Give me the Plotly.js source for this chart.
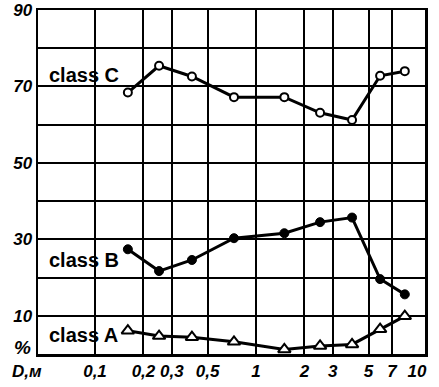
<!DOCTYPE html>
<html>
<head>
<meta charset="utf-8">
<script src="https://cdn.plot.ly/plotly-3.0.1.min.js"></script>
<style>html,body{margin:0;padding:0;background:#fff;}#chart{width:439px;height:387px;}</style>
</head>
<body>
<div id="chart"></div>
<script>
// Particle size D (m), log scale
const sizes = [0.16, 0.25, 0.40, 0.73, 1.5, 2.5, 3.95, 5.9, 8.4];
const classC = [68.4, 75.4, 72.6, 67.2, 67.2, 63.1, 61.2, 72.8, 74.0];
const classB = [27.4, 21.7, 24.6, 30.3, 31.6, 34.5, 35.7, 19.6, 15.6];
const classA = [6.1, 4.7, 4.4, 3.2, 1.2, 2.1, 2.5, 6.5, 9.9];
const seriesNames = ['class C', 'class B', 'class A'];
const labelY = [73, 24.6, 5.0];
const xTickVals = [0.1, 0.2, 0.3, 0.5, 1, 2, 3, 5, 7, 10];
const xTickText = ['0,1', '0,2', '0,3', '0,5', '1', '2', '3', '5', '7', '10'];
const xGridVals = [0.1, 0.2, 0.3, 0.5, 1, 2, 3, 5, 7];
const yTickVals = [0, 10, 20, 30, 40, 50, 60, 70, 80, 90];
const yTickText = ['', '10', '', '30', '', '50', '', '70', '', '90'];

const lineStyle = {color: '#000', width: 3};
const traces = [
  {x: sizes, y: classC, mode: 'lines+markers', line: lineStyle,
   marker: {symbol: 'circle', size: 8, color: '#fff', line: {color: '#000', width: 2}}, name: seriesNames[0]},
  {x: sizes, y: classB, mode: 'lines+markers', line: lineStyle,
   marker: {symbol: 'circle', size: 9, color: '#000', line: {color: '#000', width: 1}}, name: seriesNames[1]},
  {x: sizes, y: classA, mode: 'lines+markers', line: lineStyle,
   marker: {symbol: 'triangle-up', size: 11, color: '#fff', line: {color: '#000', width: 2}}, name: seriesNames[2]}
];

const tickFont = {family: 'Liberation Sans, Arial, sans-serif', size: 17, color: '#000', weight: 'bold', style: 'italic'};
const labelFont = {family: 'Liberation Sans, Arial, sans-serif', size: 20, color: '#000', weight: 'bold'};

const annotations = seriesNames.map((n, i) => ({
  text: n, xref: 'paper', yref: 'y', x: 0.022, y: labelY[i], xanchor: 'left', yanchor: 'middle',
  showarrow: false, font: labelFont
}));
annotations.push({text: '%', xref: 'paper', yref: 'paper', x: -0.041, y: 0.02, xanchor: 'center', yanchor: 'middle',
  showarrow: false, font: {family: 'Liberation Sans, Arial, sans-serif', size: 19, color: '#000', weight: 'bold', style: 'italic'}});
annotations.push({text: 'D,м', xref: 'paper', yref: 'paper', x: -0.028, y: -0.052, xanchor: 'center', yanchor: 'middle',
  showarrow: false, font: tickFont});

const layout = {
  width: 439, height: 387,
  margin: {l: 38, r: 14, t: 10, b: 33},
  paper_bgcolor: '#fff', plot_bgcolor: '#fff',
  showlegend: false,
  xaxis: {
    type: 'log', range: [-1.354, 1.0497],
    tickmode: 'array', tickvals: xTickVals, ticktext: xTickText,
    showgrid: false, zeroline: false, ticks: '',
    showline: true, mirror: true, linecolor: '#000', linewidth: 2.5,
    tickfont: tickFont,
    minor: {tickmode: 'array', tickvals: xGridVals, showgrid: true, gridcolor: '#000', gridwidth: 2, ticks: ''}
  },
  yaxis: {
    range: [0, 90], tickmode: 'array', tickvals: yTickVals, ticktext: yTickText,
    showgrid: true, gridcolor: '#000', gridwidth: 2, zeroline: false, ticks: '',
    showline: true, mirror: true, linecolor: '#000', linewidth: 2.5,
    tickfont: tickFont
  },
  annotations: annotations
};

Plotly.newPlot('chart', traces, layout, {displayModeBar: false, staticPlot: true});
</script>
</body>
</html>
